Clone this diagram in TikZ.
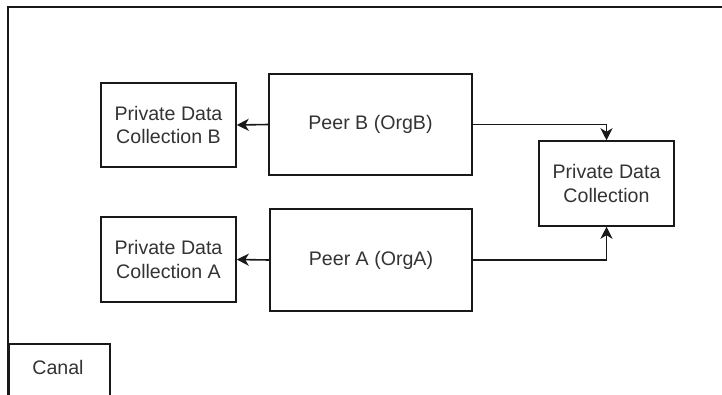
\documentclass[tikz,border=0pt]{standalone}
\usepackage{fontspec}
\setmainfont{Liberation Sans}
\usetikzlibrary{arrows.meta}
\begin{document}
\begin{tikzpicture}[x=1pt,y=-1pt,
  every node/.style={font=\fontsize{19.6}{23.5}\selectfont, text=black!80, align=center},
  box/.style={draw=black!90, line width=1.5pt, minimum width=#1, inner sep=0pt},
  link/.style={draw=black!90, line width=1.6pt, -{Stealth[length=12pt,width=12pt,inset=3.5pt]}}
]
\useasboundingbox (0,0) rectangle (722,394);
\begin{scope}
\clip (0,0) rectangle (722,394);
% channel frame, running off the page
\draw[line width=1.5pt, draw=black!90] (8,420) -- (8,7) -- (740,7);
\node[box=101pt, minimum height=60pt, anchor=north west] (canal) at (8,343) {};
\node at (58,367) {Canal};
\end{scope}
% peers
\node[box=203pt, minimum height=101pt] (peerB) at (370.5,124.5) {Peer B (OrgB)};
\node[box=202pt, minimum height=102pt] (peerA) at (371,260) {Peer A (OrgA)};
% per-organisation collections
\node[box=135pt, minimum height=84pt] (pdcB) at (168.5,125) {Private Data\\Collection B};
\node[box=135pt, minimum height=85pt] (pdcA) at (168.5,259.5) {Private Data\\Collection A};
% shared collection
\node[box=135pt, minimum height=85pt] (pdc) at (606.5,183.5) {Private Data\\Collection};
% connectors
\draw[link] (peerB.west) -- (pdcB.east);
\draw[link] (peerA.west) -- (pdcA.east);
\draw[link] (peerB.east) -| (pdc.north);
\draw[link] (peerA.east) -| (pdc.south);
\end{tikzpicture}
\end{document}
